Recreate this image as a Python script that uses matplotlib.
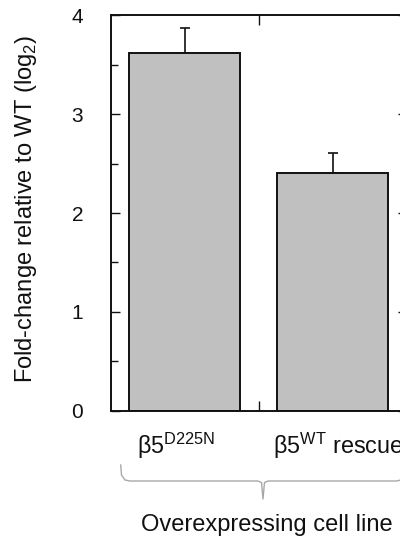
import numpy as np
import matplotlib
matplotlib.use("Agg")
import matplotlib.pyplot as plt

plt.rcParams['font.family'] = ['Liberation Sans', 'DejaVu Sans']
plt.rcParams['mathtext.fontset'] = 'custom'
plt.rcParams['mathtext.rm'] = 'Liberation Sans'

# data
labels = [r'β5$^{\mathrm{D225N}}$', r'β5$^{\mathrm{WT}}$ rescue']
values = [3.615, 2.40]
errors = [0.255, 0.205]
yticks = [0, 1, 2, 3, 4]

fig = plt.figure(figsize=(4.0, 5.37), dpi=100)
ax = fig.add_axes([0.277, 0.2352, 0.7395, 0.7363])

x = np.arange(len(values))
ax.bar(x, values, width=0.75, color='#c0c0c0', edgecolor='#111111',
       linewidth=1.4, zorder=2)
ax.errorbar(x, values, yerr=[np.zeros(len(errors)), errors], fmt='none',
            ecolor='#111111', elinewidth=1.2, capsize=3.5, capthick=1.2,
            zorder=1)

ax.set_xlim(-0.5, 1.5)
ax.set_ylim(0, 4)
ax.set_yticks(yticks)
ax.set_yticks(np.arange(0.5, 4, 1.0), minor=True)
ax.set_xticks([0.5])
ax.set_xticklabels([''])
ax.tick_params(axis='y', which='major', direction='in', length=6.5, width=1,
               labelsize=15, pad=20, right=True, colors='#111111')
ax.tick_params(axis='y', which='minor', direction='in', length=5, width=1,
               right=True, color='#111111')
ax.tick_params(axis='x', which='major', direction='in', length=7, width=1,
               top=True, color='#111111')
for sp in ax.spines.values():
    sp.set_linewidth(1.4)
    sp.set_color('#111111')

# category labels
offsets = [-0.32, -0.40]
for xi, lab, off in zip(x, labels, offsets):
    ax.annotate(lab, xy=(xi + off, 0), xycoords=('data', 'axes fraction'),
                xytext=(0, -43), textcoords='offset pixels',
                ha='left', va='baseline', fontsize=16.8, color='#111111',
                annotation_clip=False)

# brace under the categories
W, H = 400, 537
bx = np.array([120.7, 121.5, 125, 130, 258, 261.5, 263, 264.5, 268, 396, 401, 404.5, 405.3])
by = np.array([465, 475, 480, 481, 481, 482.5, 499, 482.5, 481, 481, 480, 475, 465])
fig.add_artist(plt.Line2D(bx / W, 1 - by / H, color='#a8a8a8', linewidth=1.0,
                          transform=fig.transFigure))

fig.text(266.5 / W, 1 - 531 / H, 'Overexpressing cell line', ha='center',
         va='baseline', fontsize=17, color='#111111')
fig.text(32 / W, 1 - 209 / H, r'Fold-change relative to WT (log$_2$)',
         rotation=90, ha='center', va='baseline', fontsize=17,
         color='#111111', rotation_mode='anchor')

fig.savefig('out.png', dpi=100)
